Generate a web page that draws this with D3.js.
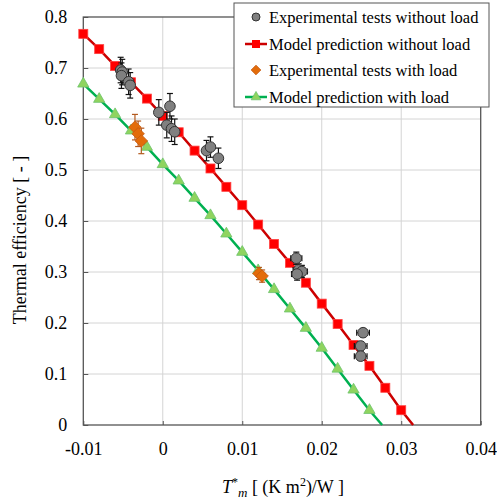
<!DOCTYPE html>
<html>
<head>
<meta charset="utf-8">
<script src="https://cdn.jsdelivr.net/npm/d3@7"></script>
<style>
  body { margin: 0; background: #fff; }
  svg text { font-family: "Liberation Serif", "Tinos", "Times New Roman", "DejaVu Serif", serif; fill: #000; }
</style>
</head>
<body>
<script>
// model curves (sampled every 0.002)
const modelNoLoadX = [-0.010, -0.008, -0.006, -0.004, -0.002, 0.000, 0.002, 0.004, 0.006, 0.008, 0.010,
  0.012, 0.014, 0.016, 0.018, 0.020, 0.022, 0.024, 0.026, 0.028, 0.030];
const modelNoLoadY = [0.767, 0.737, 0.704, 0.672, 0.640, 0.606, 0.574, 0.538, 0.503, 0.467, 0.431,
  0.393, 0.355, 0.318, 0.279, 0.238, 0.198, 0.157, 0.116, 0.073, 0.029];
const modelNoLoadEnd = [0.0315, 0];

const modelLoadX = [-0.010, -0.008, -0.006, -0.004, -0.002, 0.000, 0.002, 0.004, 0.006, 0.008, 0.010,
  0.012, 0.014, 0.016, 0.018, 0.020, 0.022, 0.024, 0.026];
const modelLoadY = [0.669, 0.639, 0.609, 0.577, 0.545, 0.511, 0.479, 0.445, 0.411, 0.375, 0.339,
  0.303, 0.266, 0.228, 0.190, 0.151, 0.110, 0.069, 0.029];
const modelLoadEnd = [0.0276, 0];

// experimental tests without load
const expNoLoadX = [-0.0053, -0.0051, -0.0052, -0.0043, -0.0041, -0.0005, 0.0009, 0.0005, 0.0011, 0.0015,
  0.0055, 0.0060, 0.0070, 0.0168, 0.0171, 0.0175, 0.0169, 0.0252, 0.0249, 0.0249];
const expNoLoadY = [0.696, 0.692, 0.685, 0.673, 0.666, 0.613, 0.625, 0.588, 0.581, 0.575,
  0.538, 0.545, 0.523, 0.327, 0.304, 0.301, 0.296, 0.181, 0.155, 0.135];
const expNoLoadXErr = [0.0004, 0.0004, 0.0004, 0.0004, 0.0004, 0.0004, 0.0004, 0.0004, 0.0004, 0.0004,
  0.0004, 0.0004, 0.0004, 0.0007, 0.0007, 0.0007, 0.0007, 0.0008, 0.0008, 0.0008];
const expNoLoadYErr = [0.025, 0.025, 0.025, 0.025, 0.025, 0.025, 0.025, 0.025, 0.025, 0.025,
  0.02, 0.02, 0.02, 0.012, 0.012, 0.012, 0.012, 0.008, 0.008, 0.008];

// experimental tests with load
const expLoadX = [-0.0035, -0.0031, -0.0027, 0.0121, 0.0125];
const expLoadY = [0.584, 0.571, 0.557, 0.297, 0.292];
const expLoadXErr = [0.0003, 0.0003, 0.0003, 0.0004, 0.0004];
const expLoadYErr = [0.025, 0.025, 0.025, 0.012, 0.012];

const xTicks = [-0.01, 0, 0.01, 0.02, 0.03, 0.04];
const yTicks = [0, 0.1, 0.2, 0.3, 0.4, 0.5, 0.6, 0.7, 0.8];

const legendLabels = ["Experimental tests without load", "Model prediction without load",
  "Experimental tests with load", "Model prediction with load"];

const W = 497, H = 499;
const plot = { left: 83.3, right: 480.7, top: 17, bottom: 425 };
const serif = "'Liberation Serif', 'Tinos', 'Times New Roman', 'DejaVu Serif', serif";

const svg = d3.select("body").append("svg")
    .attr("width", W)
    .attr("height", H)
    .style("font-family", serif);

const x = d3.scaleLinear().domain([-0.01, 0.04]).range([plot.left, plot.right]);
const y = d3.scaleLinear().domain([0, 0.8]).range([plot.bottom, plot.top]);

// gridlines
svg.append("g").selectAll("line")
    .data(xTicks.slice(1, -1))
    .join("line")
    .attr("x1", d => x(d)).attr("x2", d => x(d))
    .attr("y1", plot.top).attr("y2", plot.bottom)
    .attr("stroke", "#d4d4d4").attr("stroke-width", 1);

svg.append("g").selectAll("line")
    .data(yTicks.slice(1, -1))
    .join("line")
    .attr("x1", plot.left).attr("x2", plot.right)
    .attr("y1", d => y(d)).attr("y2", d => y(d))
    .attr("stroke", "#d4d4d4").attr("stroke-width", 1);

// axes
const xAxis = d3.axisBottom(x).tickValues(xTicks).tickSize(-4).tickPadding(17)
    .tickFormat(d => String(+d.toFixed(2)));
const gx = svg.append("g")
    .attr("transform", `translate(0,${plot.bottom})`)
    .call(xAxis);
gx.attr("font-family", serif).attr("font-size", 18);
gx.select(".domain").remove();
gx.selectAll("line").attr("stroke", "#555");

const yAxis = d3.axisLeft(y).tickValues(yTicks).tickSize(-5).tickPadding(16)
    .tickFormat(d => String(+d.toFixed(1)));
const gy = svg.append("g")
    .attr("transform", `translate(${plot.left},0)`)
    .call(yAxis);
gy.attr("font-family", serif).attr("font-size", 18);
gy.select(".domain").remove();
gy.selectAll("line").attr("stroke", "#555");

// frame
svg.append("rect")
    .attr("x", plot.left).attr("y", plot.top)
    .attr("width", plot.right - plot.left).attr("height", plot.bottom - plot.top)
    .attr("fill", "none").attr("stroke", "#555").attr("stroke-width", 1.3);

const line = d3.line().x(d => x(d[0])).y(d => y(d[1]));

// model without load
const noLoadPts = modelNoLoadX.map((v, i) => [v, modelNoLoadY[i]]);
svg.append("path")
    .datum(noLoadPts.concat([modelNoLoadEnd]))
    .attr("d", line)
    .attr("fill", "none").attr("stroke", "#cc0000").attr("stroke-width", 2.5);
svg.append("g").selectAll("rect")
    .data(noLoadPts)
    .join("rect")
    .attr("x", d => x(d[0]) - 4.5).attr("y", d => y(d[1]) - 4.5)
    .attr("width", 9).attr("height", 9)
    .attr("fill", "#ff0000").attr("stroke", "#ff4040").attr("stroke-width", 0.8);

// model with load
const tri = d3.symbol().type(d3.symbolTriangle).size(55);
const loadPts = modelLoadX.map((v, i) => [v, modelLoadY[i]]);
svg.append("path")
    .datum(loadPts.concat([modelLoadEnd]))
    .attr("d", line)
    .attr("fill", "none").attr("stroke", "#00b050").attr("stroke-width", 2.5);
svg.append("g").selectAll("path")
    .data(loadPts)
    .join("path")
    .attr("d", tri)
    .attr("transform", d => `translate(${x(d[0])},${y(d[1])})`)
    .attr("fill", "#8fd45f").attr("stroke", "#6cc36c").attr("stroke-width", 0.8);

// error bars helper
function errorBars(g, xs, ys, xe, ye, color) {
  const data = xs.map((v, i) => ({ x: v, y: ys[i], xe: xe[i], ye: ye[i] }));
  const cap = 3;
  const eg = g.append("g").attr("stroke", color).attr("stroke-width", 1.2);
  data.forEach(d => {
    const cx = x(d.x), cy = y(d.y);
    const y0 = y(d.y - d.ye), y1 = y(d.y + d.ye);
    const x0 = x(d.x - d.xe), x1 = x(d.x + d.xe);
    eg.append("line").attr("x1", cx).attr("x2", cx).attr("y1", y0).attr("y2", y1);
    eg.append("line").attr("x1", cx - cap).attr("x2", cx + cap).attr("y1", y0).attr("y2", y0);
    eg.append("line").attr("x1", cx - cap).attr("x2", cx + cap).attr("y1", y1).attr("y2", y1);
    eg.append("line").attr("x1", x0).attr("x2", x1).attr("y1", cy).attr("y2", cy);
    eg.append("line").attr("x1", x0).attr("x2", x0).attr("y1", cy - cap).attr("y2", cy + cap);
    eg.append("line").attr("x1", x1).attr("x2", x1).attr("y1", cy - cap).attr("y2", cy + cap);
  });
}

// experimental with load
const diamond = d3.symbol().type(d3.symbolDiamond2).size(100);
const expLoadG = svg.append("g");
errorBars(expLoadG, expLoadX, expLoadY, expLoadXErr, expLoadYErr, "#b35a1f");
expLoadG.selectAll("path.m")
    .data(expLoadX.map((v, i) => [v, expLoadY[i]]))
    .join("path")
    .attr("class", "m")
    .attr("d", diamond)
    .attr("transform", d => `translate(${x(d[0])},${y(d[1])})`)
    .attr("fill", "#e36c0a").attr("stroke", "#c55a11").attr("stroke-width", 0.8);

// experimental without load
const expNoLoadG = svg.append("g");
errorBars(expNoLoadG, expNoLoadX, expNoLoadY, expNoLoadXErr, expNoLoadYErr, "#111");
expNoLoadG.selectAll("circle")
    .data(expNoLoadX.map((v, i) => [v, expNoLoadY[i]]))
    .join("circle")
    .attr("cx", d => x(d[0])).attr("cy", d => y(d[1]))
    .attr("r", 5.3)
    .attr("fill", "#808080").attr("stroke", "#333").attr("stroke-width", 1);

// legend
const lg = svg.append("g");
lg.append("rect")
    .attr("x", 234).attr("y", 3).attr("width", 255).attr("height", 104)
    .attr("fill", "#fff").attr("stroke", "#555").attr("stroke-width", 1);
const rowY = [17, 44, 70, 97];
lg.selectAll("text")
    .data(legendLabels)
    .join("text")
    .attr("x", 269).attr("y", (d, i) => rowY[i])
    .attr("dy", "0.35em")
    .style("font-size", "16.5px")
    .text(d => d);
// legend symbols
lg.append("circle").attr("cx", 256).attr("cy", rowY[0]).attr("r", 4)
    .attr("fill", "#808080").attr("stroke", "#333");
lg.append("line").attr("x1", 245).attr("x2", 267).attr("y1", rowY[1]).attr("y2", rowY[1])
    .attr("stroke", "#cc0000").attr("stroke-width", 2.5);
lg.append("rect").attr("x", 252).attr("y", rowY[1] - 4).attr("width", 8).attr("height", 8)
    .attr("fill", "#ff0000");
lg.append("path").attr("d", d3.symbol().type(d3.symbolDiamond2).size(60))
    .attr("transform", `translate(256,${rowY[2]})`)
    .attr("fill", "#e36c0a").attr("stroke", "#c55a11").attr("stroke-width", 0.8);
lg.append("line").attr("x1", 245).attr("x2", 267).attr("y1", rowY[3]).attr("y2", rowY[3])
    .attr("stroke", "#00b050").attr("stroke-width", 2.5);
lg.append("path").attr("d", d3.symbol().type(d3.symbolTriangle).size(40))
    .attr("transform", `translate(256,${rowY[3]})`)
    .attr("fill", "#8fd45f").attr("stroke", "#6cc36c").attr("stroke-width", 0.8);

// axis titles
const xt = svg.append("text")
    .attr("x", 283).attr("y", 493)
    .attr("text-anchor", "middle")
    .style("font-size", "18px");
xt.append("tspan").style("font-style", "italic").text("T");
xt.append("tspan").attr("dy", -7).style("font-size", "12px").text("*");
xt.append("tspan").attr("dy", 11).style("font-size", "13px").style("font-style", "italic").text("m");
xt.append("tspan").attr("dy", -4).text(" [ (K m");
xt.append("tspan").attr("dy", -7).style("font-size", "12px").text("2");
xt.append("tspan").attr("dy", 7).text(")/W ]");

svg.append("text")
    .attr("transform", "translate(26,240) rotate(-90)")
    .attr("text-anchor", "middle")
    .style("font-size", "18px")
    .text("Thermal efficiency [ - ]");
</script>
</body>
</html>
